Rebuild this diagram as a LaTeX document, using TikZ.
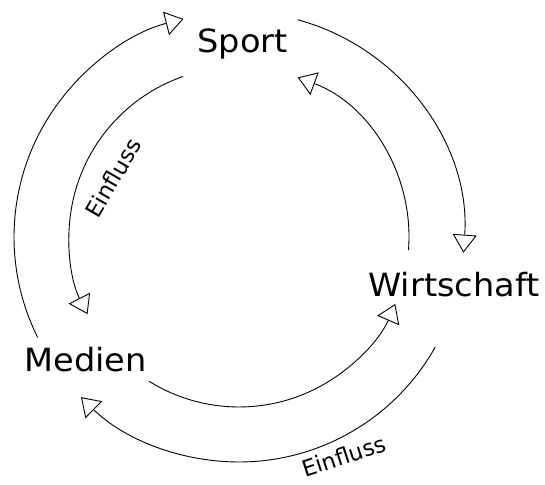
\documentclass[tikz,border=0pt]{standalone}
\usepackage{fontspec}
\setmainfont{DejaVu Sans}
\usetikzlibrary{arrows.meta,calc}
\begin{document}
\begin{tikzpicture}[x=1pt,y=1pt,
  conn/.style={line width=0.9pt, -{Triangle[open,length=18pt,width=24pt,line width=0.9pt]}},
  lbl/.style={font=\fontsize{32}{38}\selectfont, inner sep=0pt, anchor=base, xscale=1.05},
  inf/.style={font=\fontsize{22.5}{26}\selectfont, inner sep=0pt}]
\useasboundingbox (0,0) rectangle (545,484);
\coordinate (c) at (239,247);
\node[lbl] (sport) at (242.5,431) {Sport};
\node[lbl] (wirt) at (454,187) {Wirtschaft};
\node[lbl] (medien) at (85.5,112) {Medien};
% outer ring (clockwise)
\draw[conn] ($(c)+(206.5:225pt)$) coordinate (o1s) arc[start angle=206.5, end angle=104.3, radius=225pt];
\draw[conn] ($(c)+(74.9:225pt)$) coordinate (o2s) arc[start angle=74.9, end angle=-4, radius=225pt];
\draw[conn] ($(c)+(-29.3:225pt)$) coordinate (o3s) arc[start angle=-29.3, end angle=-134.6, radius=225pt];
% inner ring (counter-clockwise)
\draw[conn] ($(c)+(109.2:170pt)$) coordinate (i1s) arc[start angle=109.2, end angle=207, radius=170pt];
\draw[conn] ($(c)+(238.1:170pt)$) coordinate (i2s) arc[start angle=238.1, end angle=336.8, radius=170pt];
\draw[conn] ($(c)+(-4.4:170pt)$) coordinate (i3s) arc[start angle=-4.4, end angle=69.8, radius=170pt];
% labels
\node[inf, rotate=60] (e1) at (113,306) {Einfluss};
\node[inf, rotate=18] (e2) at (344,28) {Einfluss};
\end{tikzpicture}
\end{document}
